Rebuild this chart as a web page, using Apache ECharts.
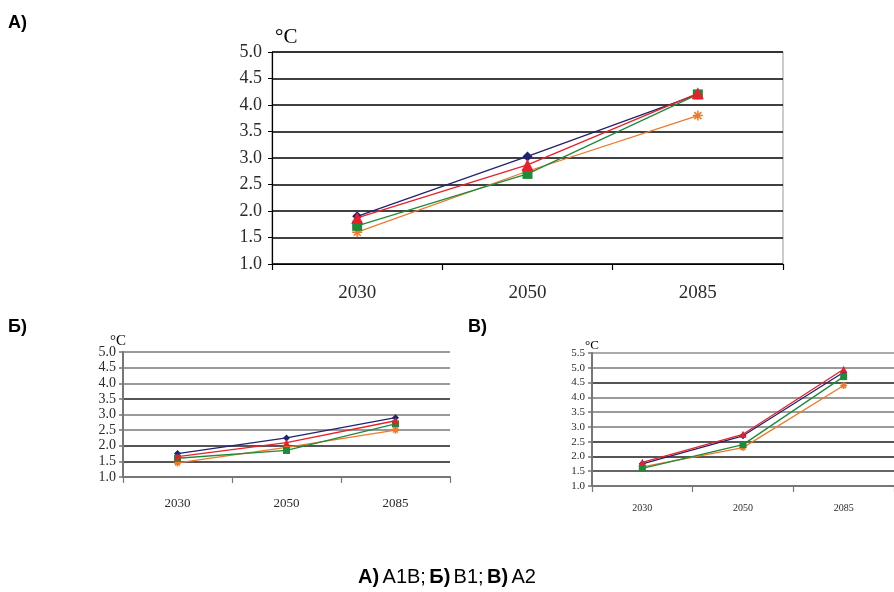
<!DOCTYPE html>
<html><head><meta charset="utf-8">
<script src="https://cdn.jsdelivr.net/npm/echarts@6/dist/echarts.min.js"></script>
<style>html,body{margin:0;padding:0;background:#fff}#c{width:894px;height:592px}</style>
</head><body><div id="c"></div>
<script>
const years = ['2030','2050','2085'];
// Panel А (A1B)
const a_navy = [1.9, 3.03, 4.2];
const a_red = [1.87, 2.87, 4.22];
const a_green = [1.72, 2.7, 4.2];
const a_orange = [1.6, 2.75, 3.8];
// Panel Б (B1)
const b_navy = [1.75, 2.25, 2.9];
const b_red = [1.65, 2.1, 2.8];
const b_green = [1.6, 1.85, 2.7];
const b_orange = [1.45, 1.95, 2.5];
// Panel В (A2)
const c_navy = [1.75, 2.7, 4.85];
const c_red = [1.8, 2.75, 4.95];
const c_green = [1.6, 2.4, 4.7];
const c_orange = [1.65, 2.3, 4.4];

const colors = ['#22226e','#e8202a','#1e8a3c','#f07828'];
const symbols = ['diamond','triangle','rect','path://M0,5 L10,5 M5,0 L5,10 M1.5,1.5 L8.5,8.5 M8.5,1.5 L1.5,8.5'];
const zOrder = [4,6,5,3];

const chart = echarts.init(document.getElementById('c'));
const serif = 'Liberation Serif';

function yAx(idx, max, fs, axisColor, axisW, gridColor, gridW, margin){
  return {type:'value', gridIndex:idx, min:1, max:max, interval:0.5,
    axisLine:{show:true, lineStyle:{color:axisColor, width:axisW}},
    axisTick:{show:true, length:4, lineStyle:{color:axisColor, width:axisW>1.5?1.5:1}},
    axisLabel:{fontFamily:serif, fontSize:fs, color:'#2a2a2a', margin:margin, formatter:v=>v.toFixed(1)},
    splitLine:{show:true, lineStyle:{color:gridColor, width:gridW}}};
}
function xAx(idx, fs, margin, axisColor, axisW){
  return {type:'category', gridIndex:idx, data:years, boundaryGap:true,
    axisLine:{lineStyle:{color:axisColor, width:axisW}},
    axisTick:{show:true, length:6, inside:false, lineStyle:{color:axisColor, width:1.2}},
    axisLabel:{fontFamily:serif, fontSize:fs, color:'#2a2a2a', margin:margin}};
}
function mk(idx, data, k, sz){
  return {type:'line', xAxisIndex:idx, yAxisIndex:idx, data:data, symbol:symbols[k], symbolSize:sz,
    lineStyle:{color:colors[k], width:1.3}, itemStyle:{color:colors[k], borderColor:colors[k], borderWidth:k===3?1.5:0},
    z: zOrder[k], animation:false};
}
const A=[a_navy,a_red,a_green,a_orange], B=[b_navy,b_red,b_green,b_orange], C=[c_navy,c_red,c_green,c_orange];
const series=[];
A.forEach((d,k)=>series.push(mk(0,d,k,k===1?12:10)));
B.forEach((d,k)=>series.push(mk(1,d,k,7)));
C.forEach((d,k)=>series.push(mk(2,d,k,7)));

const gridB = ['#666','#555','#555','#9a9a9a','#9a9a9a','#555','#9a9a9a','#9a9a9a','#9a9a9a'];
const gridC = ['#666','#666','#555','#555','#9a9a9a','#9a9a9a','#9a9a9a','#555','#9a9a9a','#aaa'];

chart.setOption({
  animation:false,
  grid:[
    {left:272, top:52, width:511, height:212, show:true, borderColor:'#999', borderWidth:1},
    {left:123, top:352, width:327, height:125, show:false},
    {left:592, top:353, width:312, height:133, show:false}
  ],
  xAxis:[xAx(0,19,20,'#000',1.2), xAx(1,13,20,'#777',2), xAx(2,10,17,'#777',2)],
  yAxis:[yAx(0,5,18,'#000',1.2,'#000',1.5,10), yAx(1,5,14,'#777',2,gridB,2.2,7), yAx(2,5.5,11,'#777',2,gridC,2.2,7)],
  series:series,
  graphic:[
    {type:'text', left:8, top:14, style:{text:'А)', font:'bold 18px "Liberation Sans"', fill:'#000'}},
    {type:'text', left:8, top:318, style:{text:'Б)', font:'bold 18px "Liberation Sans"', fill:'#000'}},
    {type:'text', left:468, top:318, style:{text:'В)', font:'bold 18px "Liberation Sans"', fill:'#000'}},
    {type:'text', left:275, top:27, style:{text:'°C', font:'21px "Liberation Serif"', fill:'#000'}},
    {type:'text', left:110, top:334, style:{text:'°C', font:'15px "Liberation Serif"', fill:'#000'}},
    {type:'text', left:585, top:339, style:{text:'°C', font:'13px "Liberation Serif"', fill:'#000'}},
    {type:'text', x:447, y:567, style:{align:'center', rich:{b:{font:'bold 20px "Liberation Sans"', fill:'#000'}, n:{font:'20px "Liberation Sans"', fill:'#000'}},
      text:'{b|А)} {n|А1В;} {b|Б)} {n|В1;} {b|В)} {n|А2}'}}
  ]
});
</script></body></html>
